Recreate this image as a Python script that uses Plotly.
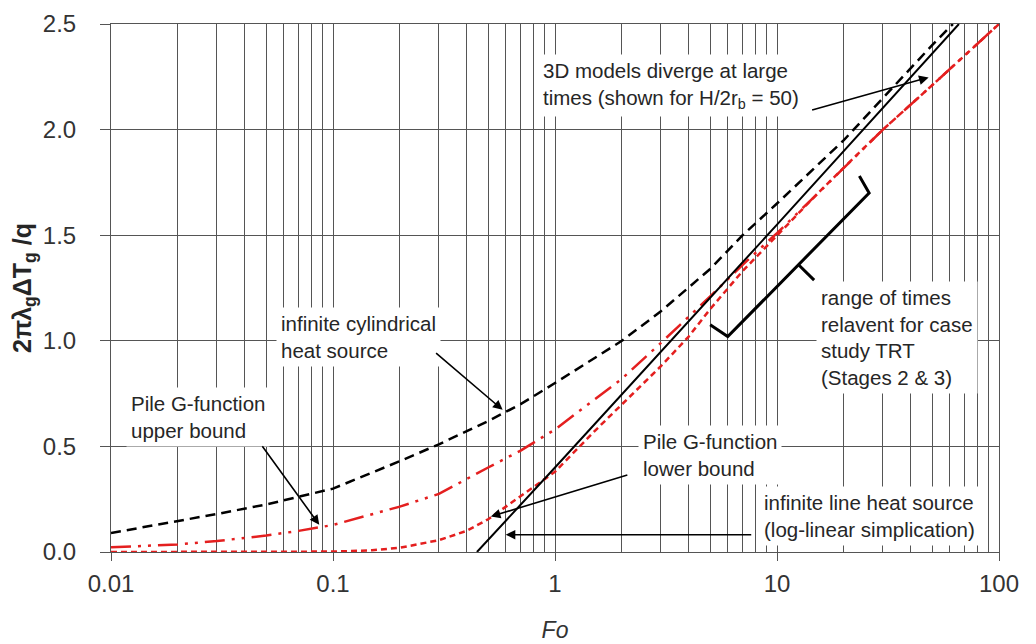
import math
import plotly.graph_objects as go

# ---------------- data ----------------
fo_ics = [0.01, 0.02, 0.03, 0.05, 0.07, 0.1, 0.2, 0.3, 0.5, 0.7, 1, 2, 3, 5, 7, 10, 20, 30, 50, 62]
g_ics = [0.09, 0.145, 0.18, 0.225, 0.26, 0.30, 0.43, 0.51, 0.62, 0.70, 0.80, 1.00, 1.14, 1.34, 1.50, 1.65, 1.95, 2.15, 2.40, 2.50]

fo_ils = [0.445, 1, 10, 66]
g_ils = [0.0, 0.40, 1.55, 2.50]

fo_up = [0.01, 0.02, 0.03, 0.05, 0.07, 0.1, 0.2, 0.3, 0.5, 0.7, 1, 1.5, 2, 3, 5, 7, 10, 15, 20, 30, 50, 70, 100]
g_up = [0.022, 0.036, 0.052, 0.078, 0.10, 0.128, 0.215, 0.275, 0.40, 0.48, 0.58, 0.72, 0.82, 0.99, 1.21, 1.36, 1.51,
        1.69, 1.82, 2.0, 2.21, 2.35, 2.5]

fo_lo = [0.01, 0.05, 0.08, 0.1, 0.15, 0.2, 0.3, 0.4, 0.5, 0.7, 1, 1.5, 2, 3, 4, 5, 7, 10, 15, 20, 30, 50, 70, 100]
g_lo = [0.0, 0.0, 0.0, 0.002, 0.008, 0.02, 0.056, 0.10, 0.155, 0.265, 0.38, 0.57, 0.70, 0.88, 1.02, 1.15, 1.33, 1.50,
        1.69, 1.82, 2.0, 2.21, 2.35, 2.5]

# bracket marking the range of times relevant for the case study TRT
bracket_fo = [5.0, 6.0, 26.0, 23.5]
bracket_g = [1.076, 1.02, 1.70, 1.78]
tick_fo = [12.5, 14.7]
tick_g = [1.36, 1.287]

x_major = [0.01, 0.1, 1, 10, 100]
x_major_text = ["0.01", "0.1", "1", "10", "100"]
y_ticks = [0.0, 0.5, 1.0, 1.5, 2.0, 2.5]
y_tick_text = ["0.0", "0.5", "1.0", "1.5", "2.0", "2.5"]

RED = "#e41f1f"
FONT = "Arial, Liberation Sans, sans-serif"
TXT = "#262626"

fig = go.Figure()
fig.add_trace(go.Scatter(x=fo_ics, y=g_ics, mode="lines",
                         line=dict(color="black", width=2.5, dash="10px,6px"), name="ICS"))
fig.add_trace(go.Scatter(x=fo_up, y=g_up, mode="lines",
                         line=dict(color=RED, width=2.5, dash="20px,7px,3px,7px,3px,7px"), name="upper"))
fig.add_trace(go.Scatter(x=fo_lo, y=g_lo, mode="lines",
                         line=dict(color=RED, width=2.5, dash="6px,4px"), name="lower"))
fig.add_trace(go.Scatter(x=fo_ils, y=g_ils, mode="lines",
                         line=dict(color="black", width=2), name="ILS"))
fig.add_trace(go.Scatter(x=bracket_fo, y=bracket_g, mode="lines",
                         line=dict(color="black", width=3), name="bracket"))
fig.add_trace(go.Scatter(x=tick_fo, y=tick_g, mode="lines",
                         line=dict(color="black", width=3), name="tick"))

# text boxes (x given as log10 Fo, as required for annotations on a log axis)
texts = [
    ("3D models diverge at large<br>times (shown for H/2r<sub>b</sub> = 50)", -0.077, 2.21),
    ("infinite cylindrical<br>heat source", -1.257, 1.018),
    ("Pile G-function<br>upper bound", -1.932, 0.64),
    ("Pile G-function<br>lower bound", 0.373, 0.46),
    ("infinite line heat source<br>(log-linear simplication)", 0.918, 0.172),
    ("range of times<br>relavent for case<br>study TRT<br>(Stages 2 & 3)", 1.174, 1.016),
]
for t, x, y in texts:
    fig.add_annotation(text=t, x=x, y=y, xref="x", yref="y", showarrow=False,
                       xanchor="left", yanchor="middle", align="left",
                       bgcolor="white", borderpad=4,
                       font=dict(family=FONT, size=20.5, color=TXT))

# arrows: head position (log10 Fo, g) and tail offset in pixels
arrows = [
    (1.683, 2.247, -118, 33),
    (-0.236, 0.673, -68, -58),
    (-1.062, 0.129, -58, -80),
    (-0.289, 0.168, 138, -42),
    (-0.222, 0.082, 247, 0),
]
for x, y, ax, ay in arrows:
    fig.add_annotation(x=x, y=y, xref="x", yref="y", ax=ax, ay=ay, axref="pixel", ayref="pixel",
                       text="", showarrow=True, arrowhead=2, arrowsize=1.2, arrowwidth=1.6,
                       arrowcolor="black")

minor_vals = [m * 10 ** k for k in range(-2, 2) for m in range(2, 10)]

fig.update_layout(
    width=1036, height=644,
    margin=dict(l=103, r=45, t=16, b=100, autoexpand=False),
    plot_bgcolor="white", paper_bgcolor="white",
    showlegend=False,
    font=dict(family=FONT, color="#333333"),
    xaxis=dict(
        type="log", range=[-2, 2], automargin=False,
        tickvals=x_major, ticktext=x_major_text,
        ticks="outside", ticklen=8, tickcolor="#555555", tickwidth=1,
        tickfont=dict(size=24, color="#333333", family=FONT),
        ticklabelstandoff=2,
        showgrid=True, gridcolor="#555555", gridwidth=1,
        minor=dict(tickvals=minor_vals, showgrid=True, gridcolor="#555555", gridwidth=1, ticks=""),
        showline=True, linecolor="#555555", linewidth=1, mirror=True,
        zeroline=False,
        title=dict(text="<i>Fo</i>", font=dict(size=23, color="#333333", family=FONT), standoff=26),
    ),
    yaxis=dict(
        range=[0, 2.5], automargin=False,
        tickvals=y_ticks, ticktext=y_tick_text,
        ticks="outside", ticklen=10, tickcolor="#555555", tickwidth=1,
        tickfont=dict(size=24, color="#333333", family=FONT),
        ticklabelstandoff=19,
        showgrid=True, gridcolor="#555555", gridwidth=1,
        showline=True, linecolor="#555555", linewidth=1, mirror=True,
        zeroline=False,
        title=dict(text="<b>2πλ<sub>g</sub>ΔT<sub>g</sub> /q</b>",
                   font=dict(size=25, color="#262626", family=FONT), standoff=7),
    ),
)

fig.write_html("out.html")
